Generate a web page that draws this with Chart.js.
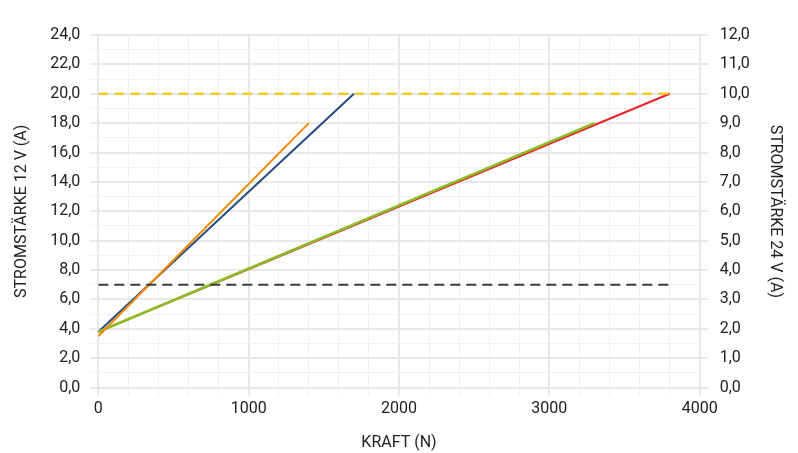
<!DOCTYPE html>
<html>
<head>
<meta charset="utf-8">
<script src="https://cdn.jsdelivr.net/npm/chart.js@4"></script>
<style>
  html, body { margin: 0; padding: 0; background: #fff; }
  #wrap { width: 798px; height: 453px; }
</style>
</head>
<body>
<div id="wrap"><canvas id="kraftChart" width="798" height="453"></canvas></div>
<script>
// Kraft in N (x) and Stromstärke in A
const kraftBlau = [0, 1700];
const strom12Blau = [3.8, 20];
const kraftOrange = [0, 1400];
const strom12Orange = [3.5, 18];
const kraftGruen = [0, 3300];
const strom24Gruen = [1.9, 9];
const kraftRot = [0, 3800];
const strom24Rot = [1.9, 10];
const kraftGrenze = [0, 3800];
const grenzeOben = [20, 20];   // 12 V axis
const grenzeUnten = [7, 7];    // 12 V axis

const xTicks = [0, 1000, 2000, 3000, 4000];

const toPoints = (xs, ys) => xs.map((x, i) => ({x: x, y: ys[i]}));
const fmt = v => v.toFixed(1).replace('.', ',');

Chart.defaults.font.family = "Roboto, 'Noto Sans', sans-serif";
Chart.defaults.color = '#222';

const ctx = document.getElementById('kraftChart').getContext('2d');

new Chart(ctx, {
    type: 'line',
    data: {
        datasets: [
            {
                data: toPoints(kraftGrenze, grenzeOben),
                borderColor: '#ffc000',
                borderWidth: 2,
                borderDash: [10, 6],
                yAxisID: 'y',
                order: 0
            },
            {
                data: toPoints(kraftGrenze, grenzeUnten),
                borderColor: '#3a3a3a',
                borderWidth: 2,
                borderDash: [10, 6],
                yAxisID: 'y',
                order: 0
            },
            {
                data: toPoints(kraftBlau, strom12Blau),
                borderColor: '#234b80',
                borderWidth: 2,
                yAxisID: 'y',
                order: 2
            },
            {
                data: toPoints(kraftOrange, strom12Orange),
                borderColor: '#f18a00',
                borderWidth: 2,
                yAxisID: 'y',
                order: 1
            },
            {
                data: toPoints(kraftRot, strom24Rot),
                borderColor: '#e8242c',
                borderWidth: 2,
                yAxisID: 'y1',
                order: 2
            },
            {
                data: toPoints(kraftGruen, strom24Gruen),
                borderColor: '#8dbd25',
                borderWidth: 2.5,
                yAxisID: 'y1',
                order: 1
            }
        ]
    },
    options: {
        responsive: false,
        animation: false,
        layout: {padding: {left: 8, right: -3, top: 35, bottom: 0}},
        elements: {point: {radius: 0}, line: {tension: 0}},
        plugins: {legend: {display: false}, tooltip: {enabled: false}},
        scales: {
            x: {
                type: 'linear',
                min: 0,
                max: 4000,
                ticks: {
                    stepSize: 200,
                    autoSkip: false,
                    maxRotation: 0,
                    padding: 4,
                    font: {size: 16},
                    callback: v => xTicks.includes(v) ? String(v) : ''
                },
                grid: {
                    color: ctx => ctx.tick && ctx.tick.value % 1000 === 0 ? '#e8e8e8' : '#f1f1f1',
                    lineWidth: ctx => ctx.tick && ctx.tick.value % 1000 === 0 ? 2 : 1,
                    tickLength: 8
                },
                border: {display: false},
                title: {display: true, text: 'KRAFT (N)', font: {size: 16}, padding: {top: 11, bottom: 0}}
            },
            y: {
                position: 'left',
                min: 0,
                max: 24,
                ticks: {
                    stepSize: 1,
                    autoSkip: false,
                    padding: 10,
                    font: {size: 16},
                    callback: v => v % 2 === 0 ? fmt(v) : ''
                },
                grid: {
                    color: ctx => ctx.tick && ctx.tick.value % 2 === 0 ? '#e8e8e8' : '#f1f1f1',
                    lineWidth: ctx => ctx.tick && ctx.tick.value % 2 === 0 ? 2 : 1,
                    tickLength: 8
                },
                border: {display: false},
                title: {display: true, text: 'STROMSTÄRKE 12 V (A)', font: {size: 16}, padding: {bottom: 9}}
            },
            y1: {
                position: 'right',
                min: 0,
                max: 12,
                ticks: {stepSize: 1, autoSkip: false, padding: 12, font: {size: 16}, callback: v => fmt(v)},
                grid: {drawOnChartArea: false, color: '#e8e8e8', lineWidth: 2, tickLength: 8},
                border: {display: false},
                title: {display: true, text: 'STROMSTÄRKE 24 V (A)', font: {size: 16}, padding: {top: 16}}
            }
        }
    }
});
</script>
</body>
</html>
